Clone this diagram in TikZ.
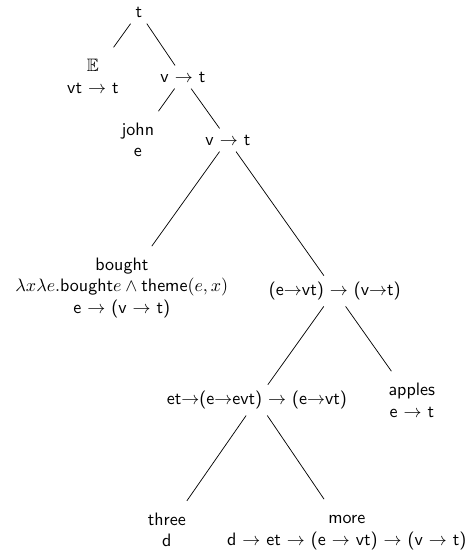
\documentclass[tikz,border=0pt]{standalone}
\usepackage{amssymb}
\usetikzlibrary{positioning}
\renewcommand{\familydefault}{\sfdefault}
\begin{document}
\begin{tikzpicture}[
    on grid,
    lbl/.style={align=center,font=\sffamily},
    leaf/.style={lbl,inner ysep=6.3pt},
    branch/.style={draw=black}
  ]
    \useasboundingbox (-77.2pt,6.7pt) rectangle ++(258.3pt,-306.7pt);

    \node[lbl] (root) at (0,0) {t};
    \node[leaf,below left=35.6pt and 25.6pt of root] (exists) {$\mathbb{E}$\\vt $\to$ t};
    \node[lbl,below right=36.1pt and 24.4pt of root] (vtone) {v $\to$ t};
    \node[leaf,below left=35pt and 25pt of vtone] (john) {john\\e};
    \node[lbl,below right=35pt and 25pt of vtone] (vttwo) {v $\to$ t};
    \node[leaf,below left=82.2pt and 58.9pt of vttwo] (bought)
      {bought\\$\lambda x\lambda e.\textsf{bought}e\wedge\textsf{theme}(e,x)$\\e $\to$ (v $\to$ t)};
    \node[lbl,below right=83.9pt and 59.4pt of vttwo] (evt) {(e$\to$vt) $\to$ (v$\to$t)};
    \node[lbl,below left=60.6pt and 43.3pt of evt] (deg) {et$\to$(e$\to$evt) $\to$ (e$\to$vt)};
    \node[leaf,below right=60.6pt and 42.8pt of evt] (apples) {apples\\e $\to$ t};
    \node[leaf,below left=72pt and 50pt of deg] (three) {three\\d};
    \node[leaf,inner ysep=8.9pt,below right=73.7pt and 50pt of deg] (more)
      {more\\d $\to$ et $\to$ (e $\to$ vt) $\to$ (v $\to$ t)};

    \draw[branch] (root) -- (exists);
    \draw[branch] (root) -- (vtone);
    \draw[branch] (vtone) -- (john);
    \draw[branch] (vtone) -- (vttwo);
    \draw[branch] (vttwo) -- (bought);
    \draw[branch] (vttwo) -- (evt);
    \draw[branch] (evt) -- (deg);
    \draw[branch] (evt) -- (apples);
    \draw[branch] (deg) -- (three);
    \draw[branch] (deg) -- (more);
  \end{tikzpicture}
\end{document}
